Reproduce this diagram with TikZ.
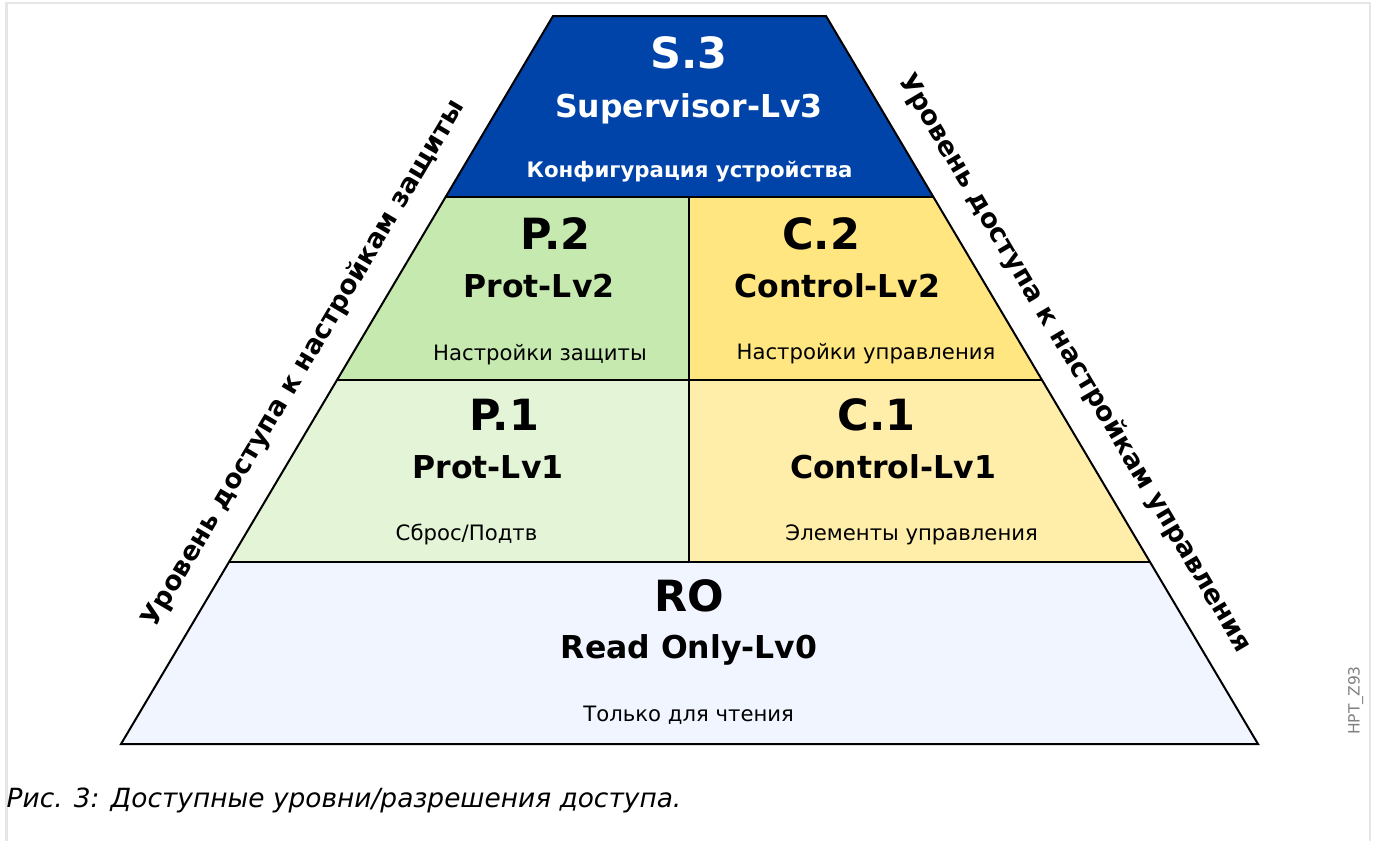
\documentclass[tikz,border=0pt]{standalone}
\usepackage{fontspec}
\setmainfont{DejaVu Sans}
\definecolor{s3blue}{HTML}{0044AA}
\definecolor{p2green}{HTML}{C6E9AF}
\definecolor{c2yellow}{HTML}{FFE680}
\definecolor{p1green}{HTML}{E3F4D7}
\definecolor{c1yellow}{HTML}{FFEEAA}
\definecolor{rocolor}{HTML}{F0F5FF}
\definecolor{framegray}{HTML}{E6E6E6}
\definecolor{idgray}{HTML}{808080}
\begin{document}
\begin{tikzpicture}[x=1pt,y=-1pt,
  edge/.style={draw=black,line width=2pt,line join=miter},
  biglabel/.style={font=\fontsize{43}{50}\selectfont\bfseries,anchor=base,inner sep=0pt},
  midlabel/.style={font=\fontsize{31.5}{36}\selectfont\bfseries,anchor=base,inner sep=0pt},
  smalllabel/.style={font=\fontsize{21.2}{24}\selectfont,anchor=base,inner sep=0pt},
  sidelabel/.style={font=\fontsize{26.5}{30}\selectfont\bfseries,anchor=base,inner sep=0pt}]
\useasboundingbox (0,0) rectangle (1375,841);
\draw[framegray,line width=2.5pt] (6.5,841) -- (6.5,3) -- (1370,3) -- (1370,841);
% pyramid corners
\coordinate (T1) at (553,16);
\coordinate (T2) at (826,16);
\coordinate (A1) at (445.6,197);
\coordinate (A2) at (933.4,197);
\coordinate (Am) at (689,197);
\coordinate (B1) at (337,380);
\coordinate (B2) at (1042,380);
\coordinate (Bm) at (689,380);
\coordinate (C1) at (229,562);
\coordinate (C2) at (1150,562);
\coordinate (Cm) at (689,562);
\coordinate (D1) at (121,744);
\coordinate (D2) at (1258,744);
\fill[s3blue] (T1)--(T2)--(A2)--(A1)--cycle;
\fill[p2green] (A1)--(Am)--(Bm)--(B1)--cycle;
\fill[c2yellow] (Am)--(A2)--(B2)--(Bm)--cycle;
\fill[p1green] (B1)--(Bm)--(Cm)--(C1)--cycle;
\fill[c1yellow] (Bm)--(B2)--(C2)--(Cm)--cycle;
\fill[rocolor] (C1)--(C2)--(D2)--(D1)--cycle;
\draw[edge] (T1)--(T2)--(D2)--(D1)--cycle;
\draw[edge] (A1)--(A2) (B1)--(B2) (C1)--(C2) (Am)--(Cm);
% S.3
\node[biglabel,text=white] (s3) at (689,68.3) {S.3};
\node[midlabel,text=white] (s3b) at (689,117) {Supervisor-Lv3};
\node[font=\fontsize{21.3}{24}\selectfont\bfseries,anchor=base,inner sep=0pt,text=white] (s3c) at (689.5,177.7) {Конфигурация устройства};
% P.2 / C.2
\node[biglabel] (p2) at (555.5,249.3) {P.2};
\node[midlabel] (p2b) at (539,297) {Prot-Lv2};
\node[smalllabel] (p2c) at (540,360) {Настройки защиты};
\node[biglabel] (c2) at (821,249.3) {C.2};
\node[midlabel] (c2b) at (837.5,297.3) {Control-Lv2};
\node[smalllabel] (c2c) at (866,359.5) {Настройки управления};
% P.1 / C.1
\node[biglabel] (p1) at (504,430.7) {P.1};
\node[midlabel] (p1b) at (488,478.3) {Prot-Lv1};
\node[smalllabel] (p1c) at (466.5,540) {Сброс/Подтв};
\node[biglabel] (c1) at (876.7,430.7) {C.1};
\node[midlabel] (c1b) at (893,478.3) {Control-Lv1};
\node[smalllabel] (c1c) at (911.7,540) {Элементы управления};
% RO
\node[biglabel] (ro) at (689.7,611.7) {RO};
\node[midlabel] (rob) at (689,658.3) {Read Only-Lv0};
\node[smalllabel] (roc) at (688.7,721.7) {Только для чтения};
% side labels
\node[sidelabel,rotate=59.32] (lside) at (310.2,367.6) {Уровень доступа к настройкам защиты};
\node[sidelabel,rotate=-59.32] (rside) at (1068.3,367.1) {Уровень доступа к настройкам управления};
% id and caption
\node[font=\fontsize{15.5}{18}\selectfont,text=idgray,anchor=base,inner sep=0pt,rotate=90] (id) at (1359.5,700.5) {HPT\_Z93};
\node[font=\fontsize{26.4}{30}\selectfont\itshape,anchor=base west,inner sep=0pt] (cap) at (6.5,807) {Рис. 3: Доступные уровни/разрешения доступа.};
\end{tikzpicture}
\end{document}
